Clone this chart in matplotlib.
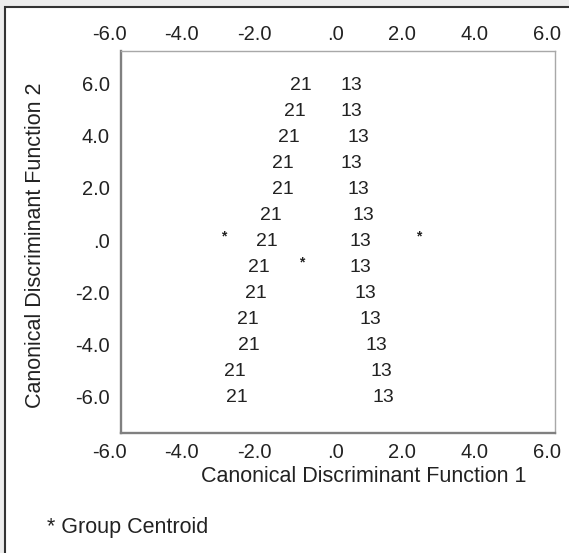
import matplotlib
matplotlib.use("Agg")
import matplotlib.pyplot as plt
from matplotlib.patches import Rectangle
from matplotlib.transforms import offset_copy

plt.rcParams['font.family'] = ['Liberation Sans', 'DejaVu Sans']

# territorial map rows (function 2) and where the group labels sit (function 1)
rows = [6, 5, 4, 3, 2, 1, 0, -1, -2, -3, -4, -5, -6]
x_21 = [-1.0, -1.17, -1.34, -1.5, -1.5, -1.85, -1.94, -2.17, -2.27, -2.47, -2.45, -2.83, -2.79]
x_13 = [0.39, 0.39, 0.57, 0.39, 0.57, 0.72, 0.62, 0.62, 0.78, 0.9, 1.08, 1.22, 1.27]

# group centroids
cent_x = [-3.16, 2.25, -0.99]
cent_y = [0.0, 0.0, -1.0]

ticks = [-6.0, -4.0, -2.0, 0.0, 2.0, 4.0, 6.0]
tick_labels = ['-6.0', '-4.0', '-2.0', '.0', '2.0', '4.0', '6.0']

W, H = 569, 553
fig = plt.figure(figsize=(W / 100, H / 100), dpi=100)
fig.patch.set_facecolor('#ededed')
# white panel with a dark edge on the top and left only (rest runs off the image)
fig.patches.append(Rectangle((5 / W, -0.1), 1.2, 1.1 - 7 / H, transform=fig.transFigure,
                             facecolor='white', edgecolor='#333333', linewidth=1.5, zorder=-10))

ax = fig.add_axes([120.5 / W, 1 - 432.5 / H, 434 / W, 382 / H])
ax.set_xlim(-6, 6)
ax.set_ylim(-7.33, 7.33)
ax.set_facecolor('none')
ax.set_xticks([])
ax.set_yticks([])
for side in ['left', 'bottom']:
    ax.spines[side].set_color('#808080')
    ax.spines[side].set_linewidth(1.7)
for side in ['top', 'right']:
    ax.spines[side].set_color('#a8a8a8')
    ax.spines[side].set_linewidth(1.0)

txt = '#222222'
for y, a, b in zip(rows, x_21, x_13):
    ax.text(a, y, '21', ha='center', va='center', fontsize=14, color=txt)
    ax.text(b, y, '13', ha='center', va='center', fontsize=14, color=txt)

star_tr = offset_copy(ax.transData, fig=fig, x=0, y=5, units='dots')
for cx, cy in zip(cent_x, cent_y):
    ax.text(cx, cy, '*', transform=star_tr, ha='center', va='center', fontsize=10,
            fontweight='bold', color=txt)

# tick labels, SPSS style: right edge just past the tick
top_tr = offset_copy(ax.get_xaxis_transform(), fig=fig, x=6, y=16.5, units='dots')
bot_tr = offset_copy(ax.get_xaxis_transform(), fig=fig, x=6, y=-20.5, units='dots')
for t, lab in zip(ticks, tick_labels):
    ax.text(t, 1, lab, transform=top_tr, ha='right', va='center', fontsize=14.5, color=txt)
    ax.text(t, 0, lab, transform=bot_tr, ha='right', va='center', fontsize=14.5, color=txt)

left_tr = offset_copy(ax.get_yaxis_transform(), fig=fig, x=-10.5, y=-0.5, units='dots')
for t, lab in zip(ticks, tick_labels):
    ax.text(0, t, lab, transform=left_tr, ha='right', va='center', fontsize=14.5, color=txt)

fig.text(364 / W, 1 - 477 / H, 'Canonical Discriminant Function 1', ha='center', va='center',
         fontsize=15.5, color=txt)
fig.text(36 / W, 1 - 245 / H, 'Canonical Discriminant Function 2', ha='center', va='center',
         rotation=90, fontsize=15.5, color=txt)
fig.text(47 / W, 1 - 528 / H, '* Group Centroid', ha='left', va='center', fontsize=15.5, color=txt)

fig.savefig('out.png', dpi=100)
